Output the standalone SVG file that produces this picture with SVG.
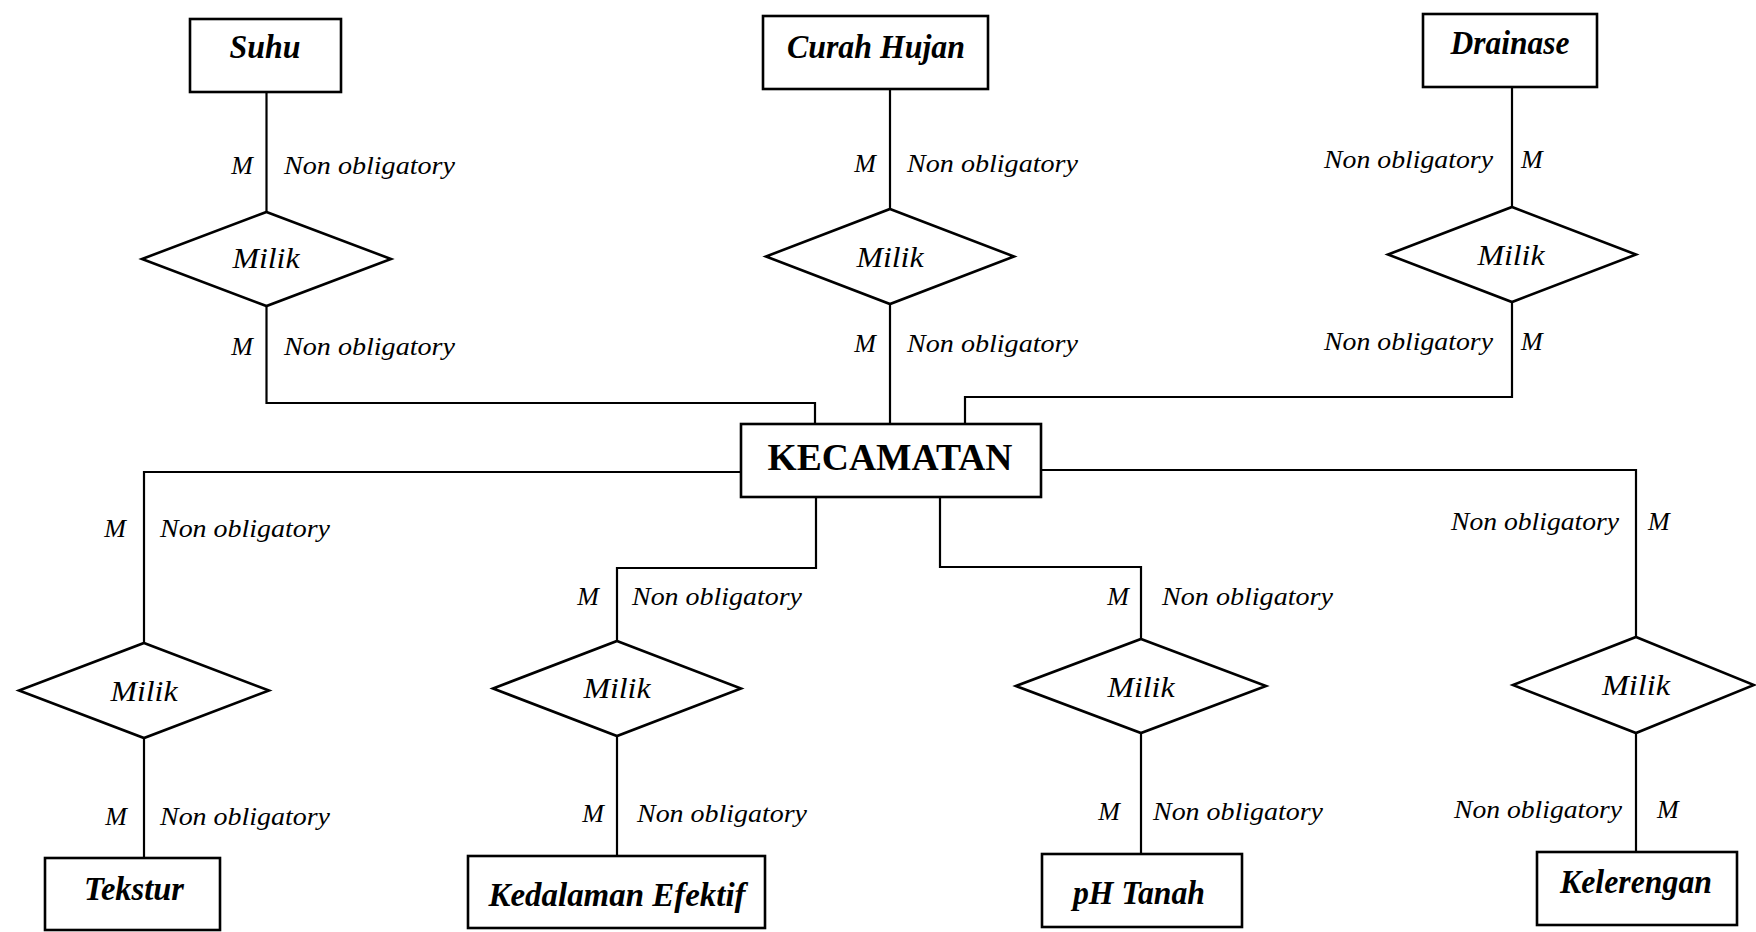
<svg xmlns="http://www.w3.org/2000/svg" width="1756" height="932" viewBox="0 0 1756 932">
  <style>
    .box { fill: #fff; stroke: #000; stroke-width: 2.6; }
    .rel { fill: #fff; stroke: #000; stroke-width: 2.6; stroke-linejoin: miter; }
    .wire { fill: none; stroke: #000; stroke-width: 2.2; }
    .ent { font-family: "Liberation Serif", "Times New Roman", serif; font-weight: bold; font-style: italic; font-size: 33px; text-anchor: middle; fill: #000; }
    .main { font-family: "Liberation Serif", "Times New Roman", serif; font-weight: bold; font-size: 37px; text-anchor: middle; fill: #000; }
    .rlabel { font-family: "Liberation Serif", "Times New Roman", serif; font-style: italic; font-size: 30px; text-anchor: middle; fill: #000; }
    .card { font-family: "Liberation Serif", "Times New Roman", serif; font-style: italic; font-size: 26px; fill: #000; }
    .l { text-anchor: start; }
    .r { text-anchor: end; }
  </style>
  <rect width="1756" height="932" fill="#fff"/>

  <!-- connectors -->
  <g id="connectors" class="wire">
    <path d="M266.5 92 V212"/>
    <path d="M266.5 306 V403 H815 V424"/>
    <path d="M890 89 V209"/>
    <path d="M890 304 V424"/>
    <path d="M1512 87 V207"/>
    <path d="M1512 302 V397 H965 V424"/>
    <path d="M741 472 H144 V643"/>
    <path d="M144 738 V858"/>
    <path d="M816 497 V568 H617 V641"/>
    <path d="M617 736 V856"/>
    <path d="M940 497 V567 H1141 V639"/>
    <path d="M1141 733 V854"/>
    <path d="M1041 470 H1636 V637"/>
    <path d="M1636 733 V852"/>
  </g>

  <!-- cardinality labels -->
  <g id="cardinalities" class="card">
    <text x="253" y="174" class="r">M</text>
    <text x="284" y="174" class="l" textLength="171" lengthAdjust="spacingAndGlyphs">Non obligatory</text>
    <text x="253" y="355" class="r">M</text>
    <text x="284" y="355" class="l" textLength="171" lengthAdjust="spacingAndGlyphs">Non obligatory</text>

    <text x="876" y="172" class="r">M</text>
    <text x="907" y="172" class="l" textLength="171" lengthAdjust="spacingAndGlyphs">Non obligatory</text>
    <text x="876" y="352" class="r">M</text>
    <text x="907" y="352" class="l" textLength="171" lengthAdjust="spacingAndGlyphs">Non obligatory</text>

    <text x="1493" y="168" class="r" textLength="169" lengthAdjust="spacingAndGlyphs">Non obligatory</text>
    <text x="1521" y="168" class="l">M</text>
    <text x="1493" y="350" class="r" textLength="169" lengthAdjust="spacingAndGlyphs">Non obligatory</text>
    <text x="1521" y="350" class="l">M</text>

    <text x="126" y="537" class="r">M</text>
    <text x="160" y="537" class="l" textLength="170" lengthAdjust="spacingAndGlyphs">Non obligatory</text>
    <text x="127" y="825" class="r">M</text>
    <text x="160" y="825" class="l" textLength="170" lengthAdjust="spacingAndGlyphs">Non obligatory</text>

    <text x="599" y="605" class="r">M</text>
    <text x="632" y="605" class="l" textLength="170" lengthAdjust="spacingAndGlyphs">Non obligatory</text>
    <text x="604" y="822" class="r">M</text>
    <text x="637" y="822" class="l" textLength="170" lengthAdjust="spacingAndGlyphs">Non obligatory</text>

    <text x="1129" y="605" class="r">M</text>
    <text x="1162" y="605" class="l" textLength="171" lengthAdjust="spacingAndGlyphs">Non obligatory</text>
    <text x="1120" y="820" class="r">M</text>
    <text x="1153" y="820" class="l" textLength="170" lengthAdjust="spacingAndGlyphs">Non obligatory</text>

    <text x="1619" y="530" class="r" textLength="168" lengthAdjust="spacingAndGlyphs">Non obligatory</text>
    <text x="1648" y="530" class="l">M</text>
    <text x="1622" y="818" class="r" textLength="168" lengthAdjust="spacingAndGlyphs">Non obligatory</text>
    <text x="1657" y="818" class="l">M</text>
  </g>

  <!-- central entity -->
  <g id="kecamatan">
    <rect class="box" x="741" y="424" width="300" height="73"/>
    <text class="main" x="890" y="470" textLength="245" lengthAdjust="spacingAndGlyphs">KECAMATAN</text>
  </g>

  <!-- upper entities and relations -->
  <g id="suhu">
    <rect class="box" x="190" y="19" width="151" height="73"/>
    <text class="ent" x="265" y="58" textLength="71" lengthAdjust="spacingAndGlyphs">Suhu</text>
  </g>
  <g id="milik-suhu">
    <polygon class="rel" points="266.5,212 391,259 266.5,306 142,259"/>
    <text class="rlabel" x="266" y="268" textLength="67" lengthAdjust="spacingAndGlyphs">Milik</text>
  </g>

  <g id="curah-hujan">
    <rect class="box" x="763" y="16" width="225" height="73"/>
    <text class="ent" x="876" y="58" textLength="178" lengthAdjust="spacingAndGlyphs">Curah Hujan</text>
  </g>
  <g id="milik-curah-hujan">
    <polygon class="rel" points="890,209 1014,256.5 890,304 766,256.5"/>
    <text class="rlabel" x="890" y="267" textLength="67" lengthAdjust="spacingAndGlyphs">Milik</text>
  </g>

  <g id="drainase">
    <rect class="box" x="1423" y="14" width="174" height="73"/>
    <text class="ent" x="1510" y="54" textLength="119" lengthAdjust="spacingAndGlyphs">Drainase</text>
  </g>
  <g id="milik-drainase">
    <polygon class="rel" points="1512,207 1636,254.5 1512,302 1388,254.5"/>
    <text class="rlabel" x="1511" y="265" textLength="67" lengthAdjust="spacingAndGlyphs">Milik</text>
  </g>

  <!-- lower entities and relations -->
  <g id="milik-tekstur">
    <polygon class="rel" points="144,643 269,690.5 144,738 19,690.5"/>
    <text class="rlabel" x="144" y="701" textLength="67" lengthAdjust="spacingAndGlyphs">Milik</text>
  </g>
  <g id="tekstur">
    <rect class="box" x="45" y="858" width="175" height="72"/>
    <text class="ent" x="134" y="900" textLength="100" lengthAdjust="spacingAndGlyphs">Tekstur</text>
  </g>

  <g id="milik-kedalaman-efektif">
    <polygon class="rel" points="617,641 741,688.5 617,736 493,688.5"/>
    <text class="rlabel" x="617" y="698" textLength="67" lengthAdjust="spacingAndGlyphs">Milik</text>
  </g>
  <g id="kedalaman-efektif">
    <rect class="box" x="468" y="856" width="297" height="72"/>
    <text class="ent" x="617" y="906" textLength="257" lengthAdjust="spacingAndGlyphs">Kedalaman Efektif</text>
  </g>

  <g id="milik-ph-tanah">
    <polygon class="rel" points="1141,639 1266,686 1141,733 1016,686"/>
    <text class="rlabel" x="1141" y="697" textLength="67" lengthAdjust="spacingAndGlyphs">Milik</text>
  </g>
  <g id="ph-tanah">
    <rect class="box" x="1042" y="854" width="200" height="73"/>
    <text class="ent" x="1139" y="904" textLength="132" lengthAdjust="spacingAndGlyphs">pH Tanah</text>
  </g>

  <g id="milik-kelerengan">
    <polygon class="rel" points="1636,637 1754,685 1636,733 1513,685"/>
    <text class="rlabel" x="1636" y="695" textLength="68" lengthAdjust="spacingAndGlyphs">Milik</text>
  </g>
  <g id="kelerengan">
    <rect class="box" x="1537" y="852" width="200" height="73"/>
    <text class="ent" x="1636" y="893" textLength="152" lengthAdjust="spacingAndGlyphs">Kelerengan</text>
  </g>
</svg>
